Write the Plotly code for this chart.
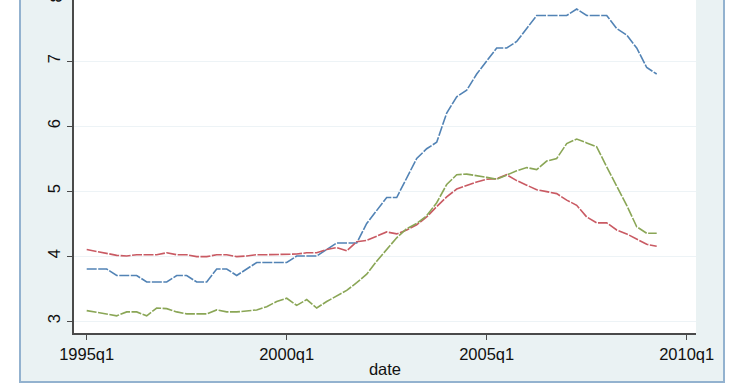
import plotly.graph_objects as go

# quarterly observations, 1995q1 .. 2009q2
start_year = 1995
n_obs = 58
quarters = [f"{start_year + i // 4}q{i % 4 + 1}" for i in range(n_obs)]
x_index = list(range(n_obs))

series_blue = [3.8, 3.8, 3.8, 3.7, 3.7, 3.7, 3.6, 3.6, 3.6, 3.7,
               3.7, 3.6, 3.6, 3.8, 3.8, 3.7, 3.8, 3.9, 3.9, 3.9,
               3.9, 4.0, 4.0, 4.0, 4.1, 4.2, 4.2, 4.2, 4.5, 4.7,
               4.9, 4.9, 5.2, 5.5, 5.65, 5.75, 6.2, 6.45, 6.55, 6.8,
               7.0, 7.2, 7.2, 7.3, 7.5, 7.7, 7.7, 7.7, 7.7, 7.8,
               7.7, 7.7, 7.7, 7.5, 7.4, 7.2, 6.9, 6.8]

series_red = [4.1, 4.07, 4.04, 4.01, 4.0, 4.02, 4.02, 4.02, 4.05, 4.02,
              4.02, 3.99, 3.99, 4.02, 4.02, 3.99, 4.0, 4.02, 4.02, 4.02,
              4.02, 4.03, 4.05, 4.05, 4.1, 4.13, 4.08, 4.22, 4.24, 4.3,
              4.37, 4.34, 4.4, 4.48, 4.6, 4.76, 4.91, 5.03, 5.09, 5.14,
              5.18, 5.19, 5.25, 5.16, 5.09, 5.02, 4.99, 4.96, 4.86, 4.78,
              4.6, 4.51, 4.51, 4.4, 4.34, 4.26, 4.18, 4.15]

series_green = [3.16, 3.13, 3.1, 3.08, 3.14, 3.14, 3.08, 3.2, 3.19, 3.14,
                3.11, 3.11, 3.11, 3.17, 3.14, 3.14, 3.15, 3.17, 3.22, 3.3,
                3.35, 3.24, 3.33, 3.2, 3.3, 3.38, 3.47, 3.59, 3.72, 3.92,
                4.1, 4.28, 4.42, 4.5, 4.62, 4.82, 5.1, 5.25, 5.26, 5.24,
                5.21, 5.18, 5.25, 5.31, 5.36, 5.33, 5.46, 5.5, 5.73, 5.8,
                5.74, 5.68, 5.37, 5.07, 4.78, 4.45, 4.35, 4.35]

x_tickvals = [0, 20, 40, 60]
x_ticktext = ["1995q1", "2000q1", "2005q1", "2010q1"]
y_tickvals = [3, 4, 5, 6, 7]

FONT = "Liberation Sans, Arial, Helvetica, sans-serif"
AXIS_COLOR = "#4a4a4a"

fig = go.Figure()
for vals, col in [(series_blue, "#5283b5"), (series_red, "#c95a63"), (series_green, "#8aa656")]:
    fig.add_trace(go.Scatter(
        x=x_index, y=vals, customdata=quarters, mode="lines",
        line=dict(color=col, width=1.6, dash="10px,1.5px"),
        showlegend=False, hovertemplate="%{customdata}: %{y}<extra></extra>"))

W, H = 740, 389
L, R, T, B = 74, 44, 0, 56
pw = W - L - R
ph = H - T - B

def px_x(p):
    return (p - L) / pw

def px_y(p):
    return (H - B - p) / ph

fig.update_layout(
    width=W, height=H,
    margin=dict(l=L, r=R, t=T, b=B, pad=0),
    paper_bgcolor="white",
    plot_bgcolor="rgba(0,0,0,0)",
    font=dict(family=FONT, size=16.5, color="#111111"),
    shapes=[
        dict(type="rect", xref="paper", yref="paper", layer="below",
             x0=px_x(20), x1=px_x(724), y0=px_y(382), y1=1.1,
             fillcolor="#eaf2f3", line=dict(color="#93b2cf", width=2)),
        dict(type="rect", xref="paper", yref="paper", layer="below",
             x0=0, x1=1, y0=0, y1=1.1,
             fillcolor="#ffffff", line=dict(width=0)),
    ],
    annotations=[
        dict(text="8", xref="paper", yref="paper", x=px_x(55), y=px_y(-1.5),
             showarrow=False, textangle=-90, font=dict(size=16.5, family=FONT, color="#111111"),
             xanchor="center", yanchor="middle"),
    ],
    xaxis=dict(
        range=[-1.27, 60.93], tickmode="array", tickvals=x_tickvals, ticktext=x_ticktext,
        showgrid=False, zeroline=False, showline=True, linecolor=AXIS_COLOR, linewidth=1.5,
        ticks="outside", ticklen=5, tickwidth=1.3, tickcolor=AXIS_COLOR,
        title=dict(text="date", font=dict(size=16.5, family=FONT), standoff=2),
        tickfont=dict(size=16.5, family=FONT),
    ),
    yaxis=dict(
        range=[3 - 12 / 65, 3 + 321 / 65], tickmode="array", tickvals=y_tickvals,
        showgrid=True, gridcolor="#edf3f6", gridwidth=1, zeroline=False,
        showline=True, linecolor=AXIS_COLOR, linewidth=1.5,
        ticks="outside", ticklen=5, tickwidth=1.3, tickcolor=AXIS_COLOR,
        tickangle=-90, tickfont=dict(size=16.5, family=FONT), ticklabelstandoff=1,
    ),
)

fig.write_html("out.html")
